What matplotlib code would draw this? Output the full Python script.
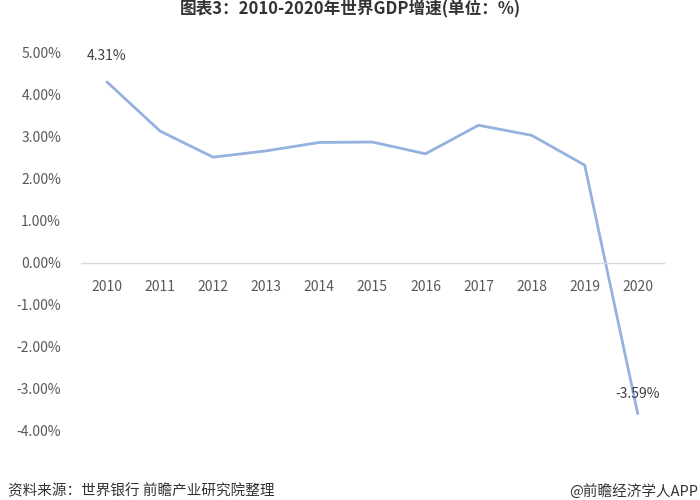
import matplotlib
matplotlib.use("Agg")
import matplotlib.pyplot as plt
from matplotlib.ticker import FuncFormatter

years = ["2010", "2011", "2012", "2013", "2014", "2015", "2016", "2017", "2018", "2019", "2020"]
growth = [4.31, 3.14, 2.52, 2.67, 2.87, 2.88, 2.60, 3.28, 3.04, 2.33, -3.59]
labelled = {0: "4.31%", 10: "-3.59%"}
y_ticks = [5, 4, 3, 2, 1, 0, -1, -2, -3, -4]

title = "图表3：2010-2020年世界GDP增速(单位：%)"
source = "资料来源：世界银行 前瞻产业研究院整理"
credit = "@前瞻经济学人APP"

plt.rcParams['font.family'] = ['Noto Sans CJK SC', 'DejaVu Sans']

fig = plt.figure(figsize=(7, 5), dpi=100)
ax = fig.add_axes([0.115, 0.138, 0.834, 0.756])

x = list(range(len(years)))
ax.plot(x, growth, color='#95B1DF', linewidth=2.0, solid_capstyle='round')

ax.set_xlim(-0.5, len(years) - 0.5)
ax.set_ylim(-4, 5)
ax.set_yticks(y_ticks)
ax.yaxis.set_major_formatter(FuncFormatter(lambda v, p: f"{v:.2f}%"))
ax.set_xticks(x)
ax.set_xticklabels(years)

for s in ['top', 'right', 'left']:
    ax.spines[s].set_visible(False)
ax.spines['bottom'].set_position(('data', 0))
ax.spines['bottom'].set_color('#D9D9D9')
ax.spines['bottom'].set_linewidth(1.0)

ax.tick_params(axis='both', length=0, labelsize=10, colors='#595959')
ax.tick_params(axis='y', pad=14)
ax.tick_params(axis='x', pad=12)

for i, txt in labelled.items():
    ax.annotate(txt, (x[i], growth[i]), xytext=(0, 14), textcoords='offset points',
                ha='center', va='bottom' if i == 0 else 'center', fontsize=10, color='#404040')

fig.text(0.5, 0.999, title, ha='center', va='top', fontsize=12, fontweight='bold', color='#333333')
fig.text(0.012, 0.003, source, ha='left', va='bottom', fontsize=10.5, color='#333333')
fig.text(0.998, 0.003, credit, ha='right', va='bottom', fontsize=10.5, color='#333333')

fig.savefig("out.png", dpi=100, facecolor='white')
